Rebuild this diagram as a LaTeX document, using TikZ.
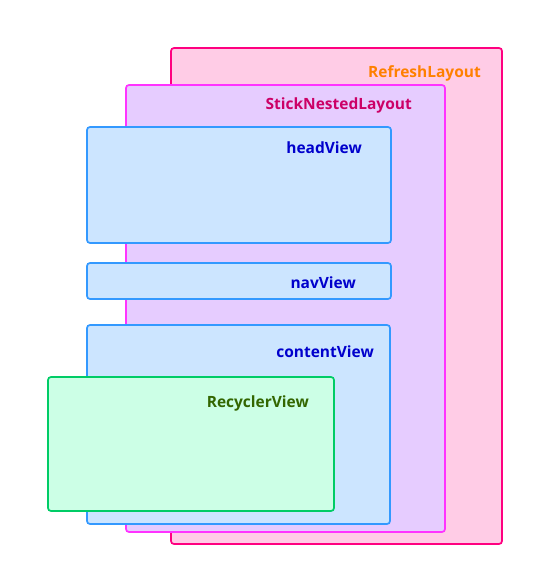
\documentclass[tikz,border=0pt]{standalone}
\usepackage{fontspec}
\setmainfont{Open Sans}
\definecolor{refStroke}{HTML}{FF0080}
\definecolor{refFill}{HTML}{FFCCE6}
\definecolor{refText}{HTML}{FF8000}
\definecolor{stkStroke}{HTML}{FF33FF}
\definecolor{stkFill}{HTML}{E6CCFF}
\definecolor{stkText}{HTML}{CC0066}
\definecolor{viewStroke}{HTML}{3399FF}
\definecolor{viewFill}{HTML}{CCE5FF}
\definecolor{viewText}{HTML}{0000CC}
\definecolor{recStroke}{HTML}{00CC66}
\definecolor{recFill}{HTML}{CCFFE6}
\definecolor{recText}{HTML}{336600}
\tikzset{
  box/.style={draw, line width=1.7bp, rounded corners=3bp, anchor=north west, inner sep=0pt, outer sep=0pt},
  lbl/.style={anchor=base east, font=\bfseries\fontsize{15.5bp}{18bp}\selectfont, inner sep=0pt},
}
\begin{document}
\begin{tikzpicture}[x=1bp,y=-1bp]
\useasboundingbox (0,0) rectangle (537,576);
\node[box, draw=refStroke, fill=refFill, minimum width=331bp, minimum height=496bp] (refresh) at (171,48) {};
\node[lbl, text=refText] (refreshL) at (481,78) {RefreshLayout};
\node[box, draw=stkStroke, fill=stkFill, minimum width=319bp, minimum height=447bp] (stick) at (126,85) {};
\node[lbl, text=stkText] (stickL) at (412,110) {StickNestedLayout};
\node[box, draw=viewStroke, fill=viewFill, minimum width=304bp, minimum height=116bp] (head) at (87,127) {};
\node[lbl, text=viewText] (headL) at (362,154) {headView};
\node[box, draw=viewStroke, fill=viewFill, minimum width=304bp, minimum height=36bp] (nav) at (87,263) {};
\node[lbl, text=viewText] (navL) at (356,288) {navView};
\node[box, draw=viewStroke, fill=viewFill, minimum width=303bp, minimum height=199bp] (content) at (87,325) {};
\node[lbl, text=viewText] (contentL) at (374,357) {contentView};
\node[box, draw=recStroke, fill=recFill, minimum width=286bp, minimum height=134bp] (recycler) at (48,377) {};
\node[lbl, text=recText] (recyclerL) at (309,407) {RecyclerView};
\end{tikzpicture}
\end{document}
